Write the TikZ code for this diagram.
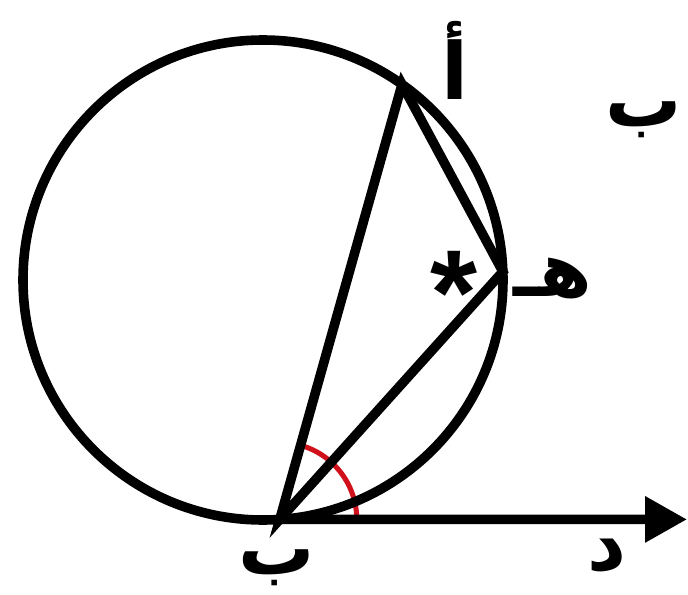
\documentclass[tikz,border=0pt]{standalone}
\usepackage{fontspec}
\usetikzlibrary{calc, arrows.meta}
\newfontfamily\arabicfont[Script=Arabic]{DejaVu Sans}
\newfontfamily\starfont{Liberation Sans}
\TeXXeTstate=1
\definecolor{markColor}{HTML}{D0101A}

\begin{document}
\begin{tikzpicture}[
    x=0.025cm, y=0.025cm,
    geom/.style={
        line width=6.8pt,
        draw=black,
    },
    chord/.style={
        geom,
        line cap=round,
        line join=miter,
    },
    tangent/.style={
        geom,
        -{Triangle[length=1.05cm, width=1.1cm]},
    },
    angmark/.style={
        draw=markColor,
        line width=3.6pt,
    },
    letter/.style={
        inner sep=0pt,
        font=\arabicfont\bfseries\fontsize{54}{54}\selectfont,
    },
]

\useasboundingbox (0,0) rectangle (688,594);

\coordinate (O) at (263,314);
\coordinate (A) at ($(O)+(54.6:240)$);
\coordinate (H) at ($(O)+(2:240)$);
\coordinate (B) at ($(O)+(-86:240)$);
\coordinate (D) at (687,74.6);

% angle between chord and tangent
\draw[angmark] ($(B)+(0:77)$) arc[start angle=0, end angle=76, radius=77];

\draw[geom] (O) circle[radius=240];
\draw[chord] (B) -- (A) -- (H) -- cycle;
\draw[tangent] (B) -- (D);

\node[letter, font=\arabicfont\bfseries\fontsize{56}{56}\selectfont] (lblA) at (455,534) {\beginR أ\endR};
\node[letter] (lblBtop) at (644,474) {\beginR ب\endR};
\node[letter] (lblH) at (553,315) {\beginR هـ\endR};
\node[letter, anchor=base, font=\starfont\bfseries\fontsize{86}{86}\selectfont] (star) at (454,260) {*};
\node[letter] (lblB) at (277,26) {\beginR ب\endR};
\node[letter] (lblD) at (607,38) {\beginR د\endR};

\end{tikzpicture}
\end{document}
